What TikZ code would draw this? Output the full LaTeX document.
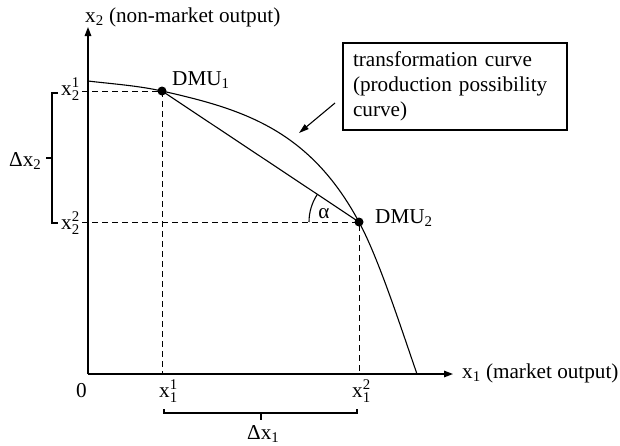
\documentclass[tikz,border=0pt]{standalone}
\usepackage{amsmath}
\usepackage{fontspec}
\setmainfont{Liberation Serif}
\usetikzlibrary{arrows.meta}
\begin{document}
\begin{tikzpicture}[x=1pt,y=-1pt,
  axis/.style={line width=1.4pt,-{Triangle[length=9pt,width=6.5pt]}},
  guide/.style={line width=0.9pt,dash pattern=on 6pt off 4pt},
  bracel/.style={line width=1.1pt},
  curveline/.style={line width=1.1pt},
  dot/.style={circle,fill=black,inner sep=0pt,minimum size=9pt},
  lbl/.style={inner sep=0pt},
  callout/.style={line width=1.1pt,-{Triangle[length=10pt,width=6pt]}},
  every node/.style={font=\fontsize{21.2}{25}\selectfont}]
\useasboundingbox (0,0) rectangle (620,445);
% axes
\coordinate (O) at (88,374);
\coordinate (ytip) at (88,27);
\coordinate (xtip) at (453,374);
\draw[axis] (O) -- (ytip);
\draw[axis] (O) -- (xtip);
\node[lbl,anchor=base west] (ylab) at (85,22) {x\textsubscript{2} (non-market output)};
\node[lbl,anchor=base west] (xlab) at (462,378) {x\textsubscript{1} (market output)};
\node[lbl,anchor=base] (zero) at (81.5,397) {0};
% points
\node[dot] (d1) at (162,91) {};
\node[dot] (d2) at (359,222) {};
\coordinate (c0) at (88,81);
\coordinate (c3) at (417,374);
% guides
\coordinate (g1) at (82,91);
\coordinate (g2) at (82,222);
\coordinate (b1) at (162,374);
\coordinate (b2) at (359,374);
\draw[guide] (g1) -- (d1.center) -- (b1);
\draw[guide] (g2) -- (d2.center) -- (b2);
% transformation curve
\draw[curveline] (c0) .. controls (113,84) and (137,85.5) .. (d1.center)
  .. controls (242,109) and (309,129) .. (d2.center)
  .. controls (379,259) and (402,331) .. (c3);
% chord
\draw[line width=1.1pt] (d1.center) -- (d2.center);
% angle alpha
\draw[line width=1.1pt] (d2.center) ++(-50,0) arc[start angle=180,end angle=213.6,radius=50];
\node[lbl,anchor=base] (alpha) at (324,218.5) {α};
% labels
\node[lbl,anchor=base west] (dmu1) at (172,85) {DMU\textsubscript{1}};
\node[lbl,anchor=base west] (dmu2) at (375,223) {DMU\textsubscript{2}};
\node[lbl,anchor=base west] (x21) at (61,95) {$\text{x}^{\text{1}}_{\text{2}}$};
\node[lbl,anchor=base west] (x22) at (61,229) {$\text{x}^{\text{2}}_{\text{2}}$};
\node[lbl,anchor=base west] (x11) at (159,397) {$\text{x}^{\text{1}}_{\text{1}}$};
\node[lbl,anchor=base west] (x12) at (352,397) {$\text{x}^{\text{2}}_{\text{1}}$};
\node[lbl,anchor=base west] (dx2) at (9,166) {Δx\textsubscript{2}};
\node[lbl,anchor=base west] (dx1) at (247,439) {Δx\textsubscript{1}};
% left brace
\draw[bracel] (58,93) -- (52,93) -- (52,223) -- (58,223);
\draw[bracel] (52,158) -- (46,158);
% bottom brace
\draw[bracel] (164,409) -- (164,413) -- (357,413) -- (357,409);
\draw[bracel] (261,413) -- (261,420);
% callout box
\node[draw,line width=1.1pt,minimum width=224pt,minimum height=87pt,text width=204pt,
  inner xsep=10pt,align=left] (box) at (455,86.5)
  {transformation curve\\(production possibility\\curve)};
\coordinate (cs) at (335,103);
\coordinate (ce) at (299,133);
\draw[callout] (cs) -- (ce);
\end{tikzpicture}
\end{document}
